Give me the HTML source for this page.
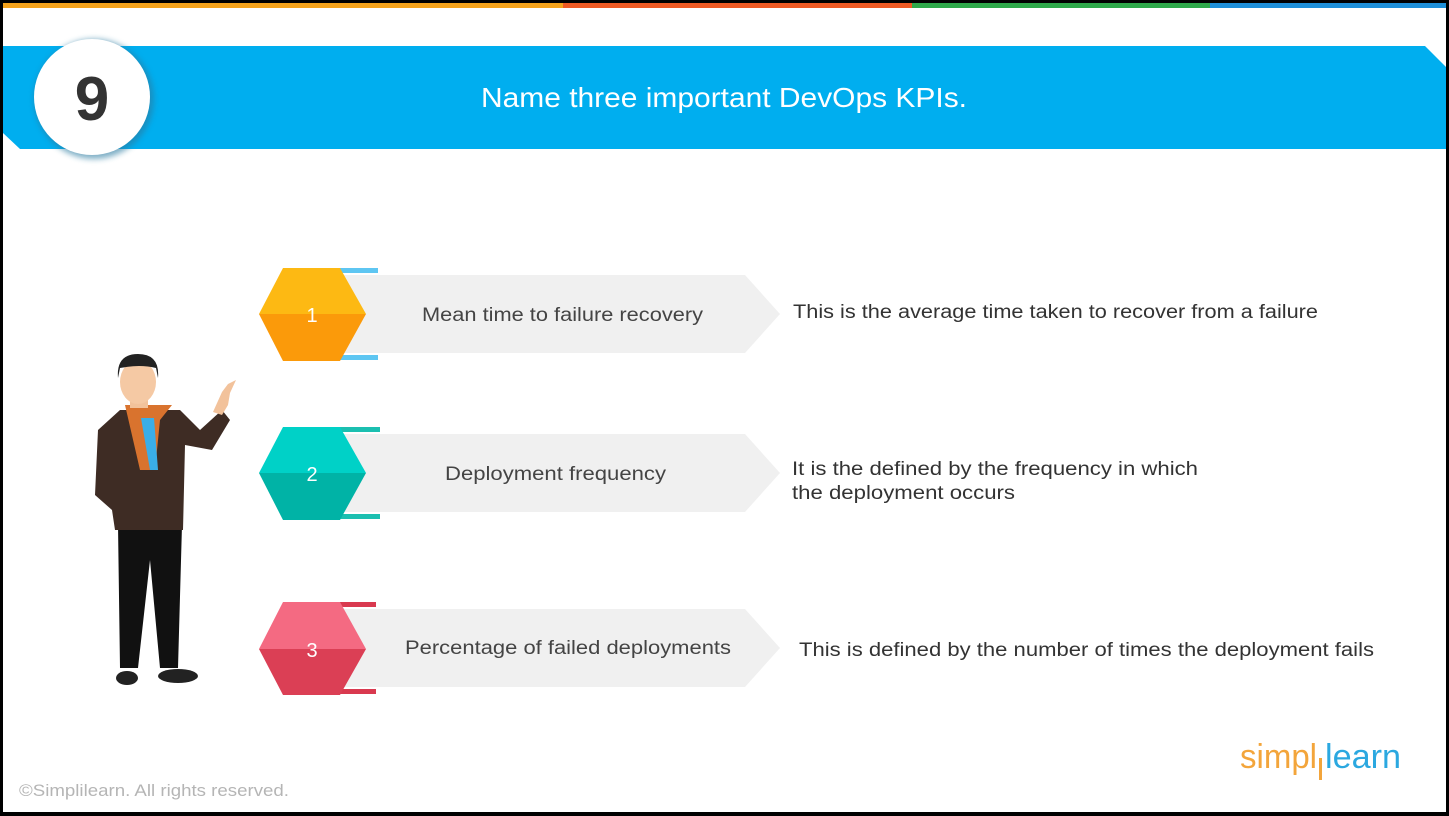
<!DOCTYPE html>
<html><head><meta charset="utf-8"><style>
html,body{margin:0;padding:0;background:#000;}
body{width:1449px;height:816px;overflow:hidden;position:relative;font-family:"Liberation Sans",sans-serif;}
</style></head><body>
<svg width="1449" height="816" xmlns="http://www.w3.org/2000/svg" style="position:absolute;left:0;top:0">
<defs>
<filter id="sh" x="-30%" y="-30%" width="160%" height="160%"><feGaussianBlur stdDeviation="3"/></filter>
</defs>
<rect x="3" y="3" width="1443" height="809" fill="#fff"/>
<rect x="3" y="3" width="560" height="5" fill="#f5a31c"/>
<rect x="563" y="3" width="349" height="5" fill="#ee5a24"/>
<rect x="912" y="3" width="298" height="5" fill="#2ea84a"/>
<rect x="1210" y="3" width="236" height="5" fill="#1e8fd8"/>
<polygon points="3,46 1425,46 1446,67 1446,149 20,149 3,133" fill="#00aeef"/>
<circle cx="94" cy="99" r="60" fill="#2a7aa0" opacity="0.6" filter="url(#sh)"/>
<circle cx="92" cy="97" r="58" fill="#fff"/>
<text x="92" y="120" text-anchor="middle" font-size="62" font-weight="bold" fill="#333">9</text>
<text x="481" y="107" font-size="28" fill="#fff" textLength="486" lengthAdjust="spacingAndGlyphs">Name three important DevOps KPIs.</text>

<!-- row 1 -->
<g>
<polygon points="340,275 745,275 780,314 745,353 340,353" fill="#f0f0f0"/>
<rect x="340" y="268" width="38" height="5" fill="#5ec6f2"/>
<rect x="340" y="355" width="38" height="5" fill="#5ec6f2"/>
<polygon points="283,268 340,268 366,314 259,314" fill="#fdb913"/>
<polygon points="259,314 366,314 340,361 283,361" fill="#fb9a0a"/>
<text x="312" y="322" text-anchor="middle" font-size="20" fill="#fff">1</text>
<text x="422" y="321" font-size="19" fill="#444" textLength="281" lengthAdjust="spacingAndGlyphs">Mean time to failure recovery</text>
<text x="793" y="318" font-size="19" fill="#333" textLength="525" lengthAdjust="spacingAndGlyphs">This is the average time taken to recover from a failure</text>
</g>
<!-- row 2 -->
<g>
<polygon points="340,434 745,434 780,473 745,512 340,512" fill="#f0f0f0"/>
<rect x="340" y="427" width="40" height="5" fill="#1bbfb0"/>
<rect x="340" y="514" width="40" height="5" fill="#1bbfb0"/>
<polygon points="283,427 340,427 366,473 259,473" fill="#00d1c7"/>
<polygon points="259,473 366,473 340,520 283,520" fill="#00b3a6"/>
<text x="312" y="481" text-anchor="middle" font-size="20" fill="#fff">2</text>
<text x="445" y="480" font-size="19" fill="#444" textLength="221" lengthAdjust="spacingAndGlyphs">Deployment frequency</text>
<text x="792" y="475" font-size="19" fill="#333" textLength="406" lengthAdjust="spacingAndGlyphs">It is the defined by the frequency in which</text>
<text x="792" y="499" font-size="19" fill="#333" textLength="223" lengthAdjust="spacingAndGlyphs">the deployment occurs</text>
</g>
<!-- row 3 -->
<g>
<polygon points="340,609 745,609 780,648 745,687 340,687" fill="#f0f0f0"/>
<rect x="340" y="602" width="36" height="5" fill="#d9394f"/>
<rect x="340" y="689" width="36" height="5" fill="#d9394f"/>
<polygon points="283,602 340,602 366,649 259,649" fill="#f46a82"/>
<polygon points="259,649 366,649 340,695 283,695" fill="#db3f55"/>
<text x="312" y="657" text-anchor="middle" font-size="20" fill="#fff">3</text>
<text x="405" y="654" font-size="19" fill="#444" textLength="326" lengthAdjust="spacingAndGlyphs">Percentage of failed deployments</text>
<text x="799" y="656" font-size="19" fill="#333" textLength="575" lengthAdjust="spacingAndGlyphs">This is defined by the number of times the deployment fails</text>
</g>

<!-- person -->
<g>
<polygon points="118,525 182,525 178,668 160,668 150,560 138,668 120,668" fill="#111"/>
<ellipse cx="127" cy="678" rx="11" ry="7" fill="#222"/>
<ellipse cx="178" cy="676" rx="20" ry="7" fill="#222"/>
<polygon points="120,410 180,410 200,430 222,410 230,420 212,450 185,445 183,530 115,530 112,510 95,495 98,430" fill="#3e2c24"/>
<polygon points="125,405 172,405 160,420 155,470 140,470" fill="#d9732e"/>
<polygon points="141,418 154,418 158,470 150,470" fill="#3aaee8"/>
<path d="M213,412 L222,392 L228,384 L236,380 L230,393 L228,405 L222,415 Z" fill="#f2c29b"/>
<rect x="130" y="390" width="18" height="18" fill="#f2c29b"/>
<ellipse cx="138" cy="382" rx="18" ry="22" fill="#f5c9a4"/>
<path d="M118,378 Q116,354 138,354 Q160,354 158,378 L156,368 Q140,364 120,368 Z" fill="#222"/>
</g>

<text x="1240" y="768" font-size="34" fill="#f3a53b" textLength="77" lengthAdjust="spacingAndGlyphs">simpl</text>
<rect x="1319" y="758" width="3" height="22" fill="#f3a53b"/>
<text x="1325" y="768" font-size="34" fill="#2ba8e0" textLength="76" lengthAdjust="spacingAndGlyphs">learn</text>
<text x="19" y="796" font-size="17" fill="#b5b5b5" textLength="270" lengthAdjust="spacingAndGlyphs">©Simplilearn. All rights reserved.</text>
</svg>
</body></html>
